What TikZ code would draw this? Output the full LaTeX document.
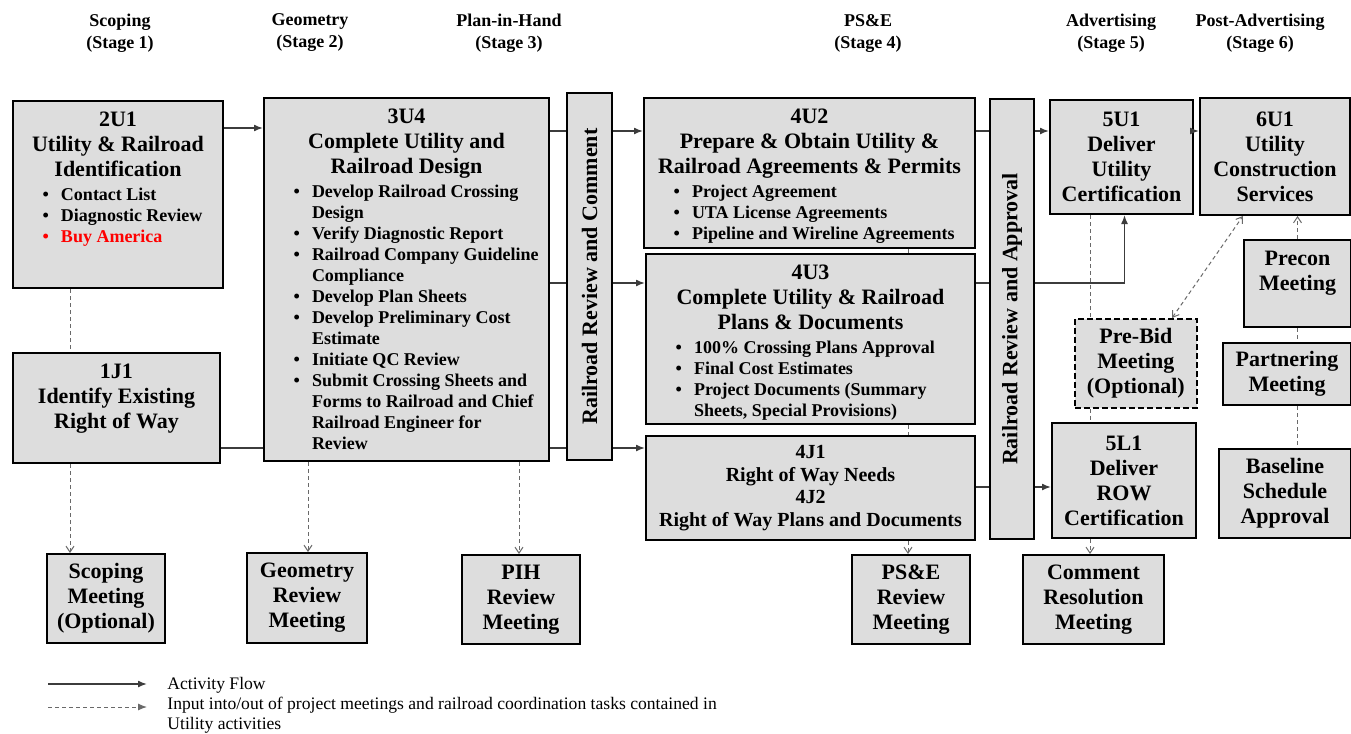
\documentclass[tikz,border=0pt]{standalone}
\usepackage{fontspec}
\usepackage{graphicx}
\setmainfont{Liberation Serif}
\usetikzlibrary{arrows.meta}

\definecolor{boxgray}{RGB}{221,221,221}
\definecolor{flowgray}{RGB}{60,60,60}
\definecolor{meetgray}{RGB}{105,105,105}

\newcommand{\ttlfont}{\fontsize{11pt}{12.5pt}\selectfont\bfseries}
\newcommand{\itmfont}{\fontsize{9pt}{10.5pt}\selectfont\bfseries}
\newcommand{\rowfont}{\fontsize{10pt}{11.3pt}\selectfont\bfseries}
\newcommand{\hdrfont}{\fontsize{9pt}{11pt}\selectfont\bfseries}
\newcommand{\keyfont}{\fontsize{8.8pt}{10pt}\selectfont}

% bullet list used inside the task boxes
\newenvironment{tasklist}{%
  \begin{list}{\textbullet}{\setlength{\leftmargin}{24pt}\setlength{\labelwidth}{10pt}%
    \setlength{\labelsep}{6pt}\setlength{\itemsep}{0pt}\setlength{\parsep}{0pt}%
    \setlength{\topsep}{1.5pt}\setlength{\partopsep}{0pt}}\itmfont\raggedright}%
  {\end{list}}

\tikzset{
  box/.style={draw=black, line width=1pt, fill=boxgray, inner sep=0pt, anchor=north west, font=\ttlfont},
  mbox/.style 2 args={box, minimum width=#1, minimum height=#2, align=center},
  tbox/.style 2 args={box,
    execute at begin node={\begin{minipage}[c][#2][t]{#1}\centering\ttlfont\vspace*{5.5pt}},
    execute at end node={\end{minipage}}},
  hdr/.style={font=\hdrfont, align=center, inner sep=0pt},
  flow/.style={draw=flowgray, line width=0.75pt, -{Latex[length=4.5pt,width=3.5pt]}},
  link/.style={draw=flowgray, line width=0.75pt},
  meet/.style={draw=meetgray, line width=0.5pt, dash pattern=on 2pt off 1.5pt, -{Straight Barb[length=3pt,width=4pt]}},
  meetline/.style={draw=meetgray, line width=0.5pt, dash pattern=on 2pt off 1.5pt},
}

\begin{document}
\begin{tikzpicture}[x=0.5pt,y=-0.5pt]
\useasboundingbox (0,0) rectangle (1351,734);

% Stage headers
\node[hdr] (hs1) at (120,33) {Scoping\\(Stage 1)};
\node[hdr] (hs2) at (310,33) {Geometry\\(Stage 2)};
\node[hdr] (hs3) at (509,33) {Plan-in-Hand\\(Stage 3)};
\node[hdr] (hs4) at (868,33) {PS\&E\\(Stage 4)};
\node[hdr] (hs5) at (1111,33) {Advertising\\(Stage 5)};
\node[hdr] (hs6) at (1260,33) {Post-Advertising\\(Stage 6)};

% Stage 1
\node[tbox={105pt}{93.5pt}] (r2u1) at (12,100) {2U1\\Utility \& Railroad\\Identification
  \begin{tasklist}
    \item Contact List
    \item Diagnostic Review
    \item[{\color{red}\textbullet}] \textcolor{red}{Buy America}
  \end{tasklist}};
\node[tbox={103.5pt}{55pt}] (r1j1) at (12,352) {1J1\\Identify Existing\\Right of Way};

% Stage 2 and 3
\node[tbox={142.5pt}{181.5pt}] (r3u4) at (263,97) {3U4\\Complete Utility and\\Railroad Design
  \begin{tasklist}
    \item Develop Railroad Crossing\\Design
    \item Verify Diagnostic Report
    \item Railroad Company Guideline\\Compliance
    \item Develop Plan Sheets
    \item Develop Preliminary Cost\\Estimate
    \item Initiate QC Review
    \item Submit Crossing Sheets and\\Forms to Railroad and Chief\\Railroad Engineer for\\Review
  \end{tasklist}};
\node[box, anchor=center, minimum width=22.5pt, minimum height=183.5pt] (rrc) at (589.5,276.5)
  {\rotatebox{90}{Railroad Review and Comment}};

% Stage 4
\node[tbox={165.5pt}{75pt}] (r4u2) at (643,97) {4U2\\Prepare \& Obtain Utility \&\\Railroad Agreements \& Permits
  \begin{tasklist}
    \item Project Agreement
    \item UTA License Agreements
    \item Pipeline and Wireline Agreements
  \end{tasklist}};
\node[tbox={164.5pt}{85pt}] (r4u3) at (645,253) {4U3\\Complete Utility \& Railroad\\Plans \& Documents
  \begin{tasklist}
    \item 100\% Crossing Plans Approval
    \item Final Cost Estimates
    \item Project Documents (Summary\\Sheets, Special Provisions)
  \end{tasklist}};
\node[mbox={164.5pt}{52pt}, font=\rowfont] (r4j1) at (645,435)
  {4J1\\Right of Way Needs\\4J2\\Right of Way Plans and Documents};
\node[box, anchor=center, minimum width=22pt, minimum height=220pt] (rra) at (1012,319)
  {\rotatebox{90}{Railroad Review and Approval}};

% Stage 5 and 6
\node[mbox={71.5pt}{57pt}] (r5u1) at (1049,99) {5U1\\Deliver\\Utility\\Certification};
\node[mbox={75pt}{58.5pt}] (r6u1) at (1199,97) {6U1\\Utility\\Construction\\Services};
\node[tbox={53.5pt}{43.5pt}] (precon) at (1243,239) {Precon\\Meeting};
\node[mbox={61pt}{44.5pt}, dash pattern=on 3pt off 1.5pt, line width=0.8pt] (prebid) at (1074,318)
  {Pre-Bid\\Meeting\\(Optional)};
\node[mbox={64pt}{31pt}] (partner) at (1222,342) {Partnering\\Meeting};
\node[mbox={72pt}{57.5pt}] (r5l1) at (1051,422) {5L1\\Deliver\\ROW\\Certification};
\node[mbox={66pt}{44.5pt}] (baseline) at (1218,448) {Baseline\\Schedule\\Approval};

% Meetings
\node[mbox={59pt}{44.5pt}] (mscope) at (46,553) {Scoping\\Meeting\\(Optional)};
\node[mbox={60pt}{45pt}] (mgeom) at (246,552) {Geometry\\Review\\Meeting};
\node[mbox={59pt}{44.5pt}] (mpih) at (461,554) {PIH\\Review\\Meeting};
\node[mbox={59pt}{44.5pt}] (mpse) at (851,554) {PS\&E\\Review\\Meeting};
\node[mbox={70.5pt}{44.5pt}] (mcomment) at (1022,554) {Comment\\Resolution\\Meeting};

% row and column levels of the connectors
\coordinate (rowa) at (0,128);
\coordinate (row1) at (0,131);
\coordinate (row2) at (0,283);
\coordinate (row3) at (0,448);
\coordinate (row4) at (0,487);
\coordinate (colA) at (70,0);
\coordinate (colB) at (308,0);
\coordinate (colC) at (519,0);
\coordinate (colD) at (908,0);
\coordinate (colE) at (1090,0);

% Activity flow
\draw[flow] (r2u1.east |- rowa) -- (r3u4.west |- rowa);
\draw[link] (r1j1.east |- row3) -- (r3u4.west |- row3);
\draw[link] (r3u4.east |- row1) -- (rrc.west |- row1);
\draw[link] (r3u4.east |- row2) -- (rrc.west |- row2);
\draw[link] (r3u4.east |- row3) -- (rrc.west |- row3);
\draw[flow] (rrc.east |- row1) -- (r4u2.west |- row1);
\draw[flow] (rrc.east |- row2) -- (r4u3.west |- row2);
\draw[flow] (rrc.east |- row3) -- (r4j1.west |- row3);
\draw[link] (r4u2.east |- row1) -- (rra.west |- row1);
\draw[link] (r4u3.east |- row2) -- (rra.west |- row2);
\draw[link] (r4j1.east |- row4) -- (rra.west |- row4);
\draw[flow] (rra.east |- row1) -- (r5u1.west |- row1);
\draw[flow] (rra.east |- row2) -| ([xshift=1.5pt]r5u1.south);
\draw[flow] (rra.east |- row4) -- (r5l1.west |- row4);
\draw[flow] (r5u1.east |- row1) -- (r6u1.west |- row1);

% Inputs into/out of meetings
\draw[meetline] (r2u1.south -| colA) -- (r1j1.north -| colA);
\draw[meet] (r1j1.south -| colA) -- (mscope.north -| colA);
\draw[meet] (r3u4.south -| colB) -- (mgeom.north -| colB);
\draw[meet] (r3u4.south -| colC) -- (mpih.north -| colC);
\draw[meetline] (r4u2.south -| colD) -- (r4u3.north -| colD);
\draw[meetline] (r4u3.south -| colD) -- (r4j1.north -| colD);
\draw[meet] (r4j1.south -| colD) -- (mpse.north -| colD);
\draw[meetline] (r5u1.south -| colE) -- (prebid.north -| colE);
\draw[meetline] (prebid.south -| colE) -- (r5l1.north -| colE);
\draw[meet] (r5l1.south -| colE) -- (mcomment.north -| colE);
\draw[meetline, {Straight Barb[length=3pt,width=4pt]}-{Straight Barb[length=3pt,width=4pt]}]
  ([xshift=49pt]prebid.north west) -- ([xshift=22pt]r6u1.south west);
\draw[meet] (precon.north) -- (r6u1.south -| precon.north);
\draw[meetline] (precon.south) -- (partner.north -| precon.south);
\draw[meetline] (partner.south -| precon.south) -- (baseline.north -| precon.south);

% Legend
\coordinate (k1a) at (48,684);
\coordinate (k1b) at (147,684);
\coordinate (k2a) at (48,707);
\coordinate (k2b) at (147,707);
\draw[flow] (k1a) -- (k1b);
\draw[meetline, -{Latex[length=4.5pt,width=3.5pt]}] (k2a) -- (k2b);
\node[font=\keyfont, align=left, anchor=north west, inner sep=0pt] (key) at (167,677)
  {Activity Flow\\Input into/out of project meetings and railroad coordination tasks contained in\\Utility activities};
\end{tikzpicture}
\end{document}
